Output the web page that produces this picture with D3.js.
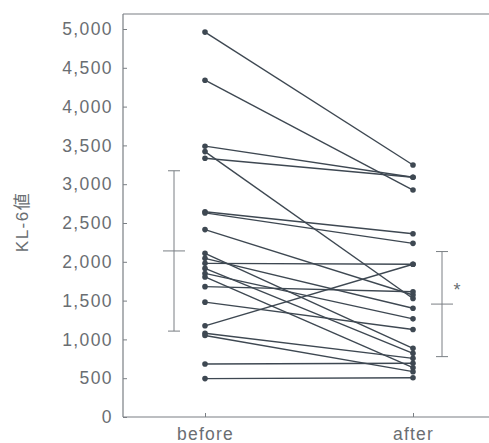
<!DOCTYPE html>
<html><head><meta charset="utf-8">
<script src="https://cdn.jsdelivr.net/npm/d3@7"></script>
<style>html,body{margin:0;padding:0;background:#fff;}svg{display:block;}</style>
</head><body>
<script>
const groups = ["before", "after"];
const beforeVals = [4960, 4340, 3490, 3420, 3335, 2645, 2630, 2415, 1980, 2110, 2045, 1915, 1850, 1805, 1680, 1480, 1175, 1080, 1050, 683, 495];
const afterVals  = [3247, 2925, 3089, 1527, 3089, 2362, 2238, 1572, 1968, 885, 1401, 821, 1265, 635, 1615, 1128, 1968, 756, 584, 692, 506];
const means = [2140, 1455];
const sds = [1033, 677];
const yTicks = [0, 500, 1000, 1500, 2000, 2500, 3000, 3500, 4000, 4500, 5000];
const yLabel = "KL-6値";
const sigMark = "*";

(function () {
const W = 489, H = 443;
const svg = d3.select("body").append("svg").attr("width", W).attr("height", H);

const y = d3.scaleLinear().domain([0, 5000]).range([417, 29]);
const x = d3.scalePoint().domain(groups).range([205, 413]);
const mLeft = 123, mRight = 489, mTop = 14;

const axisColor = "#7a7f84", textColor = "#6a6e72", lineColor = "#3e4852";

// frame: top line
svg.append("line").attr("x1", mLeft).attr("x2", mRight).attr("y1", mTop).attr("y2", mTop)
  .attr("stroke", axisColor).attr("stroke-width", 1.2);

// y axis
const yAxis = d3.axisLeft(y).tickValues(yTicks).tickSizeInner(-4).tickSizeOuter(0).tickPadding(10)
  .tickFormat(d3.format(","));
const gy = svg.append("g").attr("transform", `translate(${mLeft},0)`).call(yAxis);
gy.select(".domain").attr("d", `M0,${mTop}V${y(0)}`).attr("stroke", axisColor).attr("stroke-width", 1.2);
gy.selectAll(".tick line").attr("stroke", axisColor);
gy.selectAll(".tick text").attr("fill", textColor).attr("font-family", "'Liberation Sans', Arial, sans-serif")
  .attr("font-size", 17.5).attr("letter-spacing", 1.4);

// x axis
const xAxis = d3.axisBottom(x).tickSizeInner(-4).tickSizeOuter(0).tickPadding(11);
const gx = svg.append("g").attr("transform", `translate(0,${y(0)})`).call(xAxis);
gx.select(".domain").attr("d", `M${mLeft},0H${mRight}`).attr("stroke", axisColor).attr("stroke-width", 1.2);
gx.selectAll(".tick line").attr("stroke", axisColor);
gx.selectAll(".tick text").attr("fill", textColor).attr("font-family", "'Liberation Sans', Arial, sans-serif")
  .attr("font-size", 17.5).attr("letter-spacing", 1.2);

// y label
svg.append("text").attr("transform", "translate(28,222) rotate(-90)")
  .attr("text-anchor", "middle").attr("fill", textColor)
  .attr("font-family", "'Liberation Sans', 'Noto Sans CJK JP', sans-serif")
  .attr("font-size", 17).attr("letter-spacing", 1.5).text(yLabel);

// paired lines
const pairs = beforeVals.map((b, i) => [b, afterVals[i]]);
svg.append("g").selectAll("line").data(pairs).join("line")
  .attr("x1", x("before")).attr("x2", x("after"))
  .attr("y1", d => y(d[0])).attr("y2", d => y(d[1]))
  .attr("stroke", lineColor).attr("stroke-width", 1.4);

// dots
const dots = [];
pairs.forEach(p => { dots.push([groups[0], p[0]]); dots.push([groups[1], p[1]]); });
svg.append("g").selectAll("circle").data(dots).join("circle")
  .attr("cx", d => x(d[0])).attr("cy", d => y(d[1])).attr("r", 2.8)
  .attr("fill", lineColor);

// error bars
const ebX = [174, 442];
const meanW = [11, 11], capW = [6, 6];
groups.forEach((g, i) => {
  const eg = svg.append("g").attr("stroke", axisColor).attr("stroke-width", 1);
  const cx = ebX[i];
  eg.append("line").attr("x1", cx).attr("x2", cx).attr("y1", y(means[i] + sds[i])).attr("y2", y(means[i] - sds[i]));
  eg.append("line").attr("x1", cx - capW[i]).attr("x2", cx + capW[i]).attr("y1", y(means[i] + sds[i])).attr("y2", y(means[i] + sds[i]));
  eg.append("line").attr("x1", cx - capW[i]).attr("x2", cx + capW[i]).attr("y1", y(means[i] - sds[i])).attr("y2", y(means[i] - sds[i]));
  eg.append("line").attr("x1", cx - meanW[i]).attr("x2", cx + meanW[i]).attr("y1", y(means[i])).attr("y2", y(means[i]));
});

svg.append("text").attr("x", 457).attr("y", 296).attr("text-anchor", "middle")
  .attr("fill", textColor).attr("font-family", "'Liberation Sans', Arial, sans-serif")
  .attr("font-size", 18).text(sigMark);
})();
</script>
</body></html>
